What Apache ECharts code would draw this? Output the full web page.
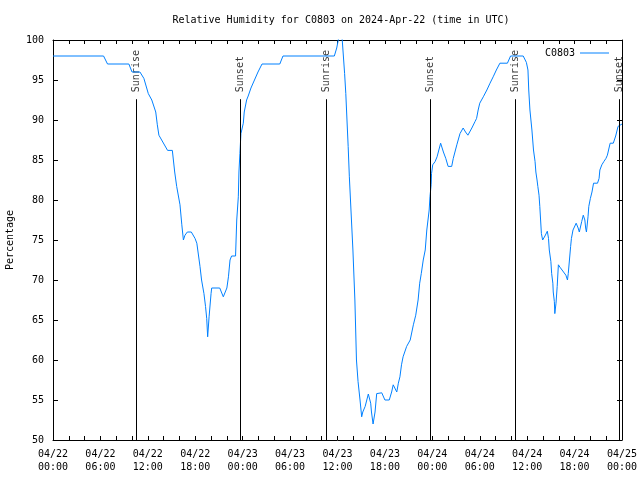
<!DOCTYPE html>
<html>
<head>
<meta charset="utf-8">
<script src="https://cdn.jsdelivr.net/npm/echarts@6/dist/echarts.min.js"></script>
<style>html,body{margin:0;padding:0;background:#fff}#c{width:640px;height:480px}</style>
</head>
<body>
<div id="c"></div>
<script>
// hours since 2024-04-22 00:00 UTC
var hours = [0,6.4,6.9,9.6,10.0,11.0,11.5,12.06,12.5,13.0,13.2,13.4,14.5,15.1,15.4,15.65,16.07,16.3,16.5,16.7,17.0,17.5,17.97,18.2,18.6,18.8,19.1,19.3,19.45,19.57,19.75,20.0,20.08,21.1,21.55,22.0,22.2,22.4,22.6,23.1,23.25,23.45,23.53,23.65,23.78,24.08,24.2,24.5,24.7,25.05,25.94,26.45,28.7,29.1,35.6,35.9,36.1,36.3,36.6,36.9,37.05,37.2,37.35,37.5,37.95,38.05,38.2,38.3,38.4,38.6,38.85,39.06,39.2,39.5,39.9,40.1,40.2,40.3,40.5,40.75,40.96,41.1,41.6,42.0,42.55,42.85,43.05,43.5,43.7,43.9,44.1,44.3,44.75,45.2,45.6,45.9,46.2,46.4,46.6,46.85,47.1,47.3,47.6,47.7,47.85,47.9,48.05,48.35,48.6,49.05,49.4,49.7,50.0,50.45,50.65,51.1,51.5,51.9,52.2,52.5,53.0,53.4,53.6,53.8,54.0,54.45,54.9,55.3,55.7,56.1,56.55,57.5,57.9,59.5,59.9,60.1,60.2,60.35,60.6,60.8,61.0,61.1,61.25,61.35,61.5,61.6,61.7,61.8,61.96,62.25,62.55,62.7,62.8,63.0,63.1,63.25,63.3,63.44,63.5,63.65,63.8,63.95,64.15,64.6,64.9,65.1,65.2,65.35,65.5,65.6,65.8,66.2,66.45,66.6,66.9,67.1,67.3,67.4,67.5,67.7,67.8,68.0,68.2,68.4,68.9,69.1,69.2,69.45,69.7,69.97,70.15,70.3,70.5,70.9,71.2,71.5,72.0];
var humidity = [98,98,97,97,96,96,95.2,93.3,92.5,91,89.4,88.1,86.2,86.2,83.5,81.7,79.4,76.9,75,75.6,76,76,75.2,74.6,71.7,70,68.3,66.7,65.2,62.9,65.4,68.3,69,69,67.9,69,70.4,72.5,73,73,77.5,80.4,83.5,85.8,88.3,89.6,91,92.5,93,94,96,97,97,98,98,99,100,101.5,100,95.8,93.3,90,86.7,82.9,73.75,71.25,67.5,63.75,60,57.3,55,52.9,53.5,54.2,55.75,55.9,54.6,53.5,52,53.5,55.8,55.9,55.9,55,55,56,56.9,56,57.1,57.9,59.4,60.4,61.7,62.5,64.4,65.6,67.5,69.6,70.8,72.5,73.75,76.25,78.75,80.4,81.9,83.3,84.4,84.8,85.4,87.1,86,85.2,84.2,84.2,85.2,86.9,88.3,89,88.5,88.1,89,89.8,90.2,91.25,92.1,92.9,93.75,94.6,95.4,96.25,97.1,97.1,98,98,97.2,96.25,93.75,91.25,88.75,86.25,84.8,83.5,82.5,81.7,80.6,79.2,77.5,75.8,75,75.5,76.1,75.2,73.75,72.3,70.8,69.6,68.5,67.3,65.8,67.1,69.2,71.9,71.6,71,70.6,70,70.8,72.5,74.2,75.2,76.25,77.1,76.5,76,77.3,78.1,77.5,76.5,76,77.9,79.2,80.2,81,82.1,82.1,82.7,83.75,84.4,84.8,85.2,85.6,86.25,87.1,87.1,88,89.2,89.5];
var eventHours = [10.55, 23.7, 34.55, 47.72, 58.5, 71.68];
var eventNames = ['Sunrise','Sunset','Sunrise','Sunset','Sunrise','Sunset'];
var eventTop = 92.6;
var dayLabels = ['04/22','04/22','04/22','04/22','04/23','04/23','04/23','04/23','04/24','04/24','04/24','04/24','04/25'];
var timeLabels = ['00:00','06:00','12:00','18:00','00:00','06:00','12:00','18:00','00:00','06:00','12:00','18:00','00:00'];

var FONT = 'DejaVu Sans Mono';
var seriesData = hours.map(function(h,i){return [h, humidity[i]];});
var markData = eventHours.map(function(h){return [{coord:[h,50]},{coord:[h,eventTop]}];});
var eventData = eventHours.map(function(h,i){return {value:[h,eventTop], name:eventNames[i]};});

var axisCommon = {
  type:'value', min:0, max:72, interval:6,
  axisLine:{show:true, onZero:false, lineStyle:{color:'#000', width:1}},
  axisTick:{show:true, inside:true, length:4, lineStyle:{color:'#000'}},
  minorTick:{show:true, splitNumber:3, length:4, lineStyle:{color:'#000'}},
  splitLine:{show:false}
};
var yCommon = {
  type:'value', min:50, max:100, interval:5,
  axisLine:{show:true, onZero:false, lineStyle:{color:'#000', width:1}},
  axisTick:{show:true, inside:true, length:5, lineStyle:{color:'#000'}},
  splitLine:{show:false}
};

var chart = echarts.init(document.getElementById('c'), null, {renderer:'canvas'});
chart.setOption({
  animation:false,
  backgroundColor:'#fff',
  title:{text:'Relative Humidity for C0803 on 2024-Apr-22 (time in UTC)', left:336, top:10, textAlign:'center',
    textStyle:{fontFamily:FONT, fontSize:10, fontWeight:'normal', color:'#000'}},
  legend:{data:['C0803'], right:26, top:43, align:'right', icon:'rect', itemWidth:29, itemHeight:1, itemGap:6,
    textStyle:{fontFamily:FONT, fontSize:10, color:'#000'}},
  grid:{left:53, right:18, top:40, bottom:40, containLabel:false, outerBoundsMode:'none'},
  xAxis:[
    Object.assign({}, axisCommon, {position:'bottom',
      axisLabel:{margin:8, fontFamily:FONT, fontSize:10, color:'#000', lineHeight:13,
        formatter:function(v){var i=Math.round(v/6);return dayLabels[i]+'\n'+timeLabels[i];}}}),
    Object.assign({}, axisCommon, {position:'top', axisLabel:{show:false}})
  ],
  yAxis:[
    Object.assign({}, yCommon, {position:'left', name:'Percentage', nameLocation:'middle', nameGap:37,
      nameTextStyle:{fontFamily:FONT, fontSize:10, color:'#000'},
      axisLabel:{margin:9, fontFamily:FONT, fontSize:10, color:'#000'}}),
    Object.assign({}, yCommon, {position:'right', axisLabel:{show:false}})
  ],
  series:[
    {name:'C0803', type:'line', data:seriesData, showSymbol:false, symbol:'none',
      lineStyle:{color:'#0080ff', width:1}, itemStyle:{color:'#0080ff'}, clip:true,
      markLine:{silent:true, symbol:'none', animation:false, label:{show:false},
        lineStyle:{color:'#000', width:1, type:'solid'}, data:markData}},
    {name:'events', type:'scatter', data:eventData, symbolSize:0, silent:true,
      label:{show:true, position:'top', distance:7, rotate:90, align:'left', verticalAlign:'middle',
        fontFamily:FONT, fontSize:10, color:'#000', formatter:function(p){return p.name;}}}
  ]
});
</script>
</body>
</html>
